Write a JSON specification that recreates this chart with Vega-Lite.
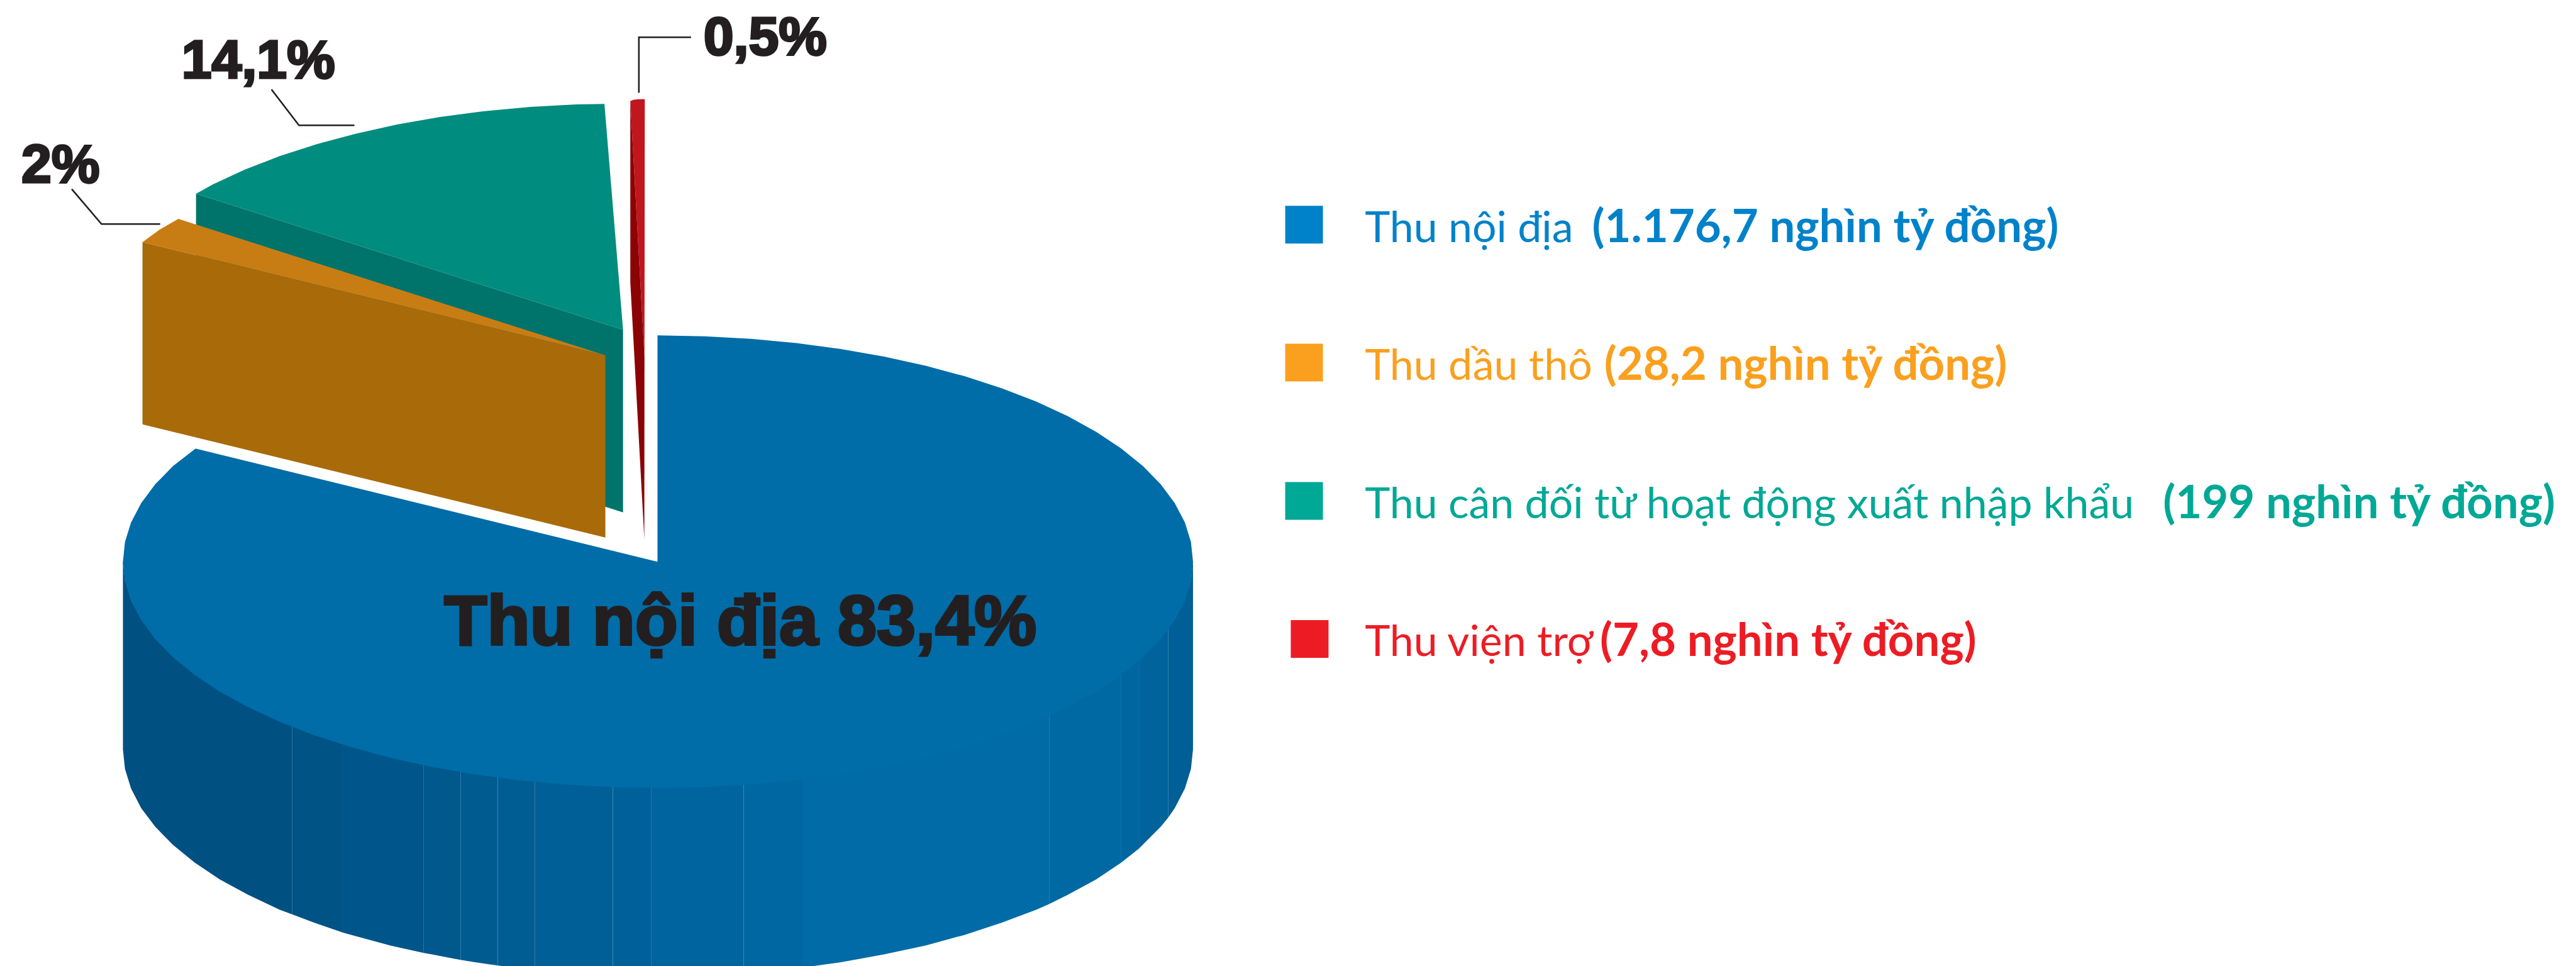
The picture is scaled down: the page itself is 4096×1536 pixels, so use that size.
{"$schema":"https://vega.github.io/schema/vega-lite/v6.json","width":4096,"height":1536,"autosize":{"type":"fit","contains":"padding"},"padding":0,"background":"white","config":{"view":{"stroke":null},"legend":{"disable":true}},
"datasets":{
"bands":[
{"band":"A","x":264,"top":1203,"bottom":1609},{"band":"A","x":268.4,"top":1245,"bottom":1651},{"band":"A","x":281.4,"top":1287,"bottom":1693},{"band":"A","x":303.2,"top":1329,"bottom":1735},{"band":"A","x":333.3,"top":1369,"bottom":1775},{"band":"A","x":371.6,"top":1408,"bottom":1814},{"band":"A","x":418,"top":1446,"bottom":1852},{"band":"A","x":471.8,"top":1482,"bottom":1888},{"band":"A","x":532.8,"top":1515,"bottom":1921},{"band":"A","x":600.5,"top":1547,"bottom":1953},{"band":"A","x":627,"top":1557,"bottom":1963},
{"band":"B","x":627,"top":1557,"bottom":1963},{"band":"B","x":674.4,"top":1575,"bottom":1981},{"band":"B","x":736,"top":1596,"bottom":2002},
{"band":"C","x":736,"top":1596,"bottom":2002},{"band":"C","x":754,"top":1601,"bottom":2007},{"band":"C","x":838.5,"top":1624,"bottom":2030},{"band":"C","x":910,"top":1640,"bottom":2046},
{"band":"D","x":910,"top":1640,"bottom":2046},{"band":"D","x":927.4,"top":1643,"bottom":2049},{"band":"D","x":989,"top":1655,"bottom":2061},
{"band":"E","x":989,"top":1655,"bottom":2061},{"band":"E","x":1020,"top":1660,"bottom":2066},{"band":"E","x":1069,"top":1667,"bottom":2073},
{"band":"F","x":1069,"top":1667,"bottom":2073},{"band":"F","x":1115.6,"top":1672,"bottom":2078},{"band":"F","x":1149,"top":1676,"bottom":2082},
{"band":"G","x":1149,"top":1676,"bottom":2082},{"band":"G","x":1213.5,"top":1682,"bottom":2088},{"band":"G","x":1316,"top":1687,"bottom":2093},
{"band":"H","x":1316,"top":1687,"bottom":2093},{"band":"H","x":1399,"top":1689,"bottom":2095},
{"band":"I","x":1399,"top":1689,"bottom":2095},{"band":"I","x":1513,"top":1687,"bottom":2093},{"band":"I","x":1597,"top":1683,"bottom":2089},
{"band":"J","x":1597,"top":1683,"bottom":2089},{"band":"J","x":1710.4,"top":1672,"bottom":2078},{"band":"J","x":1726,"top":1671,"bottom":2077},
{"band":"K","x":1726,"top":1671,"bottom":2077},{"band":"K","x":1806,"top":1660,"bottom":2066},{"band":"K","x":1898.6,"top":1643,"bottom":2049},{"band":"K","x":1987.5,"top":1624,"bottom":2030},{"band":"K","x":2072,"top":1601,"bottom":2007},{"band":"K","x":2151.6,"top":1575,"bottom":1981},{"band":"K","x":2225.5,"top":1547,"bottom":1953},{"band":"K","x":2253,"top":1535,"bottom":1941},
{"band":"L","x":2253,"top":1535,"bottom":1941},{"band":"L","x":2293.2,"top":1515,"bottom":1921},{"band":"L","x":2354.2,"top":1482,"bottom":1888},{"band":"L","x":2408,"top":1446,"bottom":1852},
{"band":"M","x":2408,"top":1446,"bottom":1852},{"band":"M","x":2446,"top":1416,"bottom":1822},
{"band":"N","x":2446,"top":1416,"bottom":1822},{"band":"N","x":2492.7,"top":1369,"bottom":1775},{"band":"N","x":2509,"top":1349,"bottom":1755},
{"band":"O","x":2509,"top":1349,"bottom":1755},{"band":"O","x":2522.8,"top":1329,"bottom":1735},{"band":"O","x":2544.6,"top":1287,"bottom":1693},{"band":"O","x":2557.6,"top":1245,"bottom":1651},{"band":"O","x":2562,"top":1203,"bottom":1609}
],
"shapes":[
{"piece":"blueTop","o":0,"x":1412,"y":1206},{"piece":"blueTop","o":1,"x":1412,"y":720},{"piece":"blueTop","o":2,"x":1513.2,"y":721.9},{"piece":"blueTop","o":3,"x":1612.5,"y":727.4},{"piece":"blueTop","o":4,"x":1710.4,"y":736.6},{"piece":"blueTop","o":5,"x":1806,"y":749.3},{"piece":"blueTop","o":6,"x":1898.6,"y":765.5},{"piece":"blueTop","o":7,"x":1987.5,"y":785.1},{"piece":"blueTop","o":8,"x":2072,"y":807.9},{"piece":"blueTop","o":9,"x":2151.6,"y":833.7},{"piece":"blueTop","o":10,"x":2225.5,"y":862.3},{"piece":"blueTop","o":11,"x":2293.2,"y":893.6},{"piece":"blueTop","o":12,"x":2354.2,"y":927.2},{"piece":"blueTop","o":13,"x":2408,"y":963},{"piece":"blueTop","o":14,"x":2454.4,"y":1000.6},{"piece":"blueTop","o":15,"x":2492.7,"y":1039.8},{"piece":"blueTop","o":16,"x":2522.8,"y":1080.2},{"piece":"blueTop","o":17,"x":2544.6,"y":1121.6},{"piece":"blueTop","o":18,"x":2557.6,"y":1163.6},{"piece":"blueTop","o":19,"x":2562,"y":1206},{"piece":"blueTop","o":20,"x":2557.6,"y":1248.4},{"piece":"blueTop","o":21,"x":2544.6,"y":1290.4},{"piece":"blueTop","o":22,"x":2522.8,"y":1331.8},{"piece":"blueTop","o":23,"x":2492.7,"y":1372.2},{"piece":"blueTop","o":24,"x":2454.4,"y":1411.4},{"piece":"blueTop","o":25,"x":2408,"y":1449},{"piece":"blueTop","o":26,"x":2354.2,"y":1484.8},{"piece":"blueTop","o":27,"x":2293.2,"y":1518.4},{"piece":"blueTop","o":28,"x":2225.5,"y":1549.7},{"piece":"blueTop","o":29,"x":2151.6,"y":1578.3},{"piece":"blueTop","o":30,"x":2072,"y":1604.1},{"piece":"blueTop","o":31,"x":1987.5,"y":1626.9},{"piece":"blueTop","o":32,"x":1898.6,"y":1646.5},{"piece":"blueTop","o":33,"x":1806,"y":1662.7},{"piece":"blueTop","o":34,"x":1710.4,"y":1675.4},{"piece":"blueTop","o":35,"x":1612.5,"y":1684.6},{"piece":"blueTop","o":36,"x":1513.2,"y":1690.1},{"piece":"blueTop","o":37,"x":1413,"y":1692},{"piece":"blueTop","o":38,"x":1312.8,"y":1690.1},{"piece":"blueTop","o":39,"x":1213.5,"y":1684.6},{"piece":"blueTop","o":40,"x":1115.6,"y":1675.4},{"piece":"blueTop","o":41,"x":1020,"y":1662.7},{"piece":"blueTop","o":42,"x":927.4,"y":1646.5},{"piece":"blueTop","o":43,"x":838.5,"y":1626.9},{"piece":"blueTop","o":44,"x":754,"y":1604.1},{"piece":"blueTop","o":45,"x":674.4,"y":1578.3},{"piece":"blueTop","o":46,"x":600.5,"y":1549.7},{"piece":"blueTop","o":47,"x":532.8,"y":1518.4},{"piece":"blueTop","o":48,"x":471.8,"y":1484.8},{"piece":"blueTop","o":49,"x":418,"y":1449},{"piece":"blueTop","o":50,"x":371.6,"y":1411.4},{"piece":"blueTop","o":51,"x":333.3,"y":1372.2},{"piece":"blueTop","o":52,"x":303.2,"y":1331.8},{"piece":"blueTop","o":53,"x":281.4,"y":1290.4},{"piece":"blueTop","o":54,"x":268.4,"y":1248.4},{"piece":"blueTop","o":55,"x":264,"y":1206},{"piece":"blueTop","o":56,"x":268.4,"y":1163.6},{"piece":"blueTop","o":57,"x":281.4,"y":1121.6},{"piece":"blueTop","o":58,"x":303.2,"y":1080.2},{"piece":"blueTop","o":59,"x":333.3,"y":1039.8},{"piece":"blueTop","o":60,"x":371.6,"y":1000.6},{"piece":"blueTop","o":61,"x":420,"y":963},
{"piece":"tealSide","o":0,"x":421,"y":416},{"piece":"tealSide","o":1,"x":1338,"y":708},{"piece":"tealSide","o":2,"x":1338,"y":1100},{"piece":"tealSide","o":3,"x":421,"y":808},
{"piece":"tealTop","o":0,"x":1338,"y":708},{"piece":"tealTop","o":1,"x":1298,"y":223},{"piece":"tealTop","o":2,"x":1238,"y":224},{"piece":"tealTop","o":3,"x":1138.5,"y":229.4},{"piece":"tealTop","o":4,"x":1040.6,"y":238.6},{"piece":"tealTop","o":5,"x":945,"y":251.3},{"piece":"tealTop","o":6,"x":852.4,"y":267.5},{"piece":"tealTop","o":7,"x":763.5,"y":287.1},{"piece":"tealTop","o":8,"x":679,"y":309.9},{"piece":"tealTop","o":9,"x":599.4,"y":335.7},{"piece":"tealTop","o":10,"x":525.5,"y":364.3},{"piece":"tealTop","o":11,"x":457.8,"y":395.6},{"piece":"tealTop","o":12,"x":421,"y":416},
{"piece":"orangeTop","o":0,"x":1300,"y":763},{"piece":"orangeTop","o":1,"x":383,"y":470},{"piece":"orangeTop","o":2,"x":343,"y":493},{"piece":"orangeTop","o":3,"x":306,"y":520},
{"piece":"orangeSide","o":0,"x":306,"y":520},{"piece":"orangeSide","o":1,"x":1300,"y":763},{"piece":"orangeSide","o":2,"x":1300,"y":1154},{"piece":"orangeSide","o":3,"x":306,"y":911},
{"piece":"redTop","o":0,"x":1353.6,"y":217},{"piece":"redTop","o":1,"x":1360,"y":214.5},{"piece":"redTop","o":2,"x":1370,"y":213},{"piece":"redTop","o":3,"x":1384.7,"y":213},{"piece":"redTop","o":4,"x":1384,"y":765},
{"piece":"redSide","o":0,"x":1353.6,"y":217},{"piece":"redSide","o":1,"x":1384,"y":765},{"piece":"redSide","o":2,"x":1383.7,"y":1158},{"piece":"redSide","o":3,"x":1353.6,"y":606}
],
"leaders":[
{"leader":"a","o":0,"x":154,"y":406},{"leader":"a","o":1,"x":218,"y":481},{"leader":"a","o":2,"x":344,"y":481},
{"leader":"b","o":0,"x":583,"y":192},{"leader":"b","o":1,"x":642,"y":269},{"leader":"b","o":2,"x":761,"y":269},
{"leader":"c","o":0,"x":1372,"y":199},{"leader":"c","o":1,"x":1372,"y":80},{"leader":"c","o":2,"x":1484,"y":80}
],
"labels":[
{"label":"2%","x":46,"y":392},{"label":"14,1%","x":390,"y":167},{"label":"0,5%","x":1511,"y":118}
],
"legend":[
{"name":"Thu nội địa","amount":"(1.176,7 nghìn tỷ đồng)","mx":2800.5,"my":482.5,"nx":2931,"ax":3419,"b":520},
{"name":"Thu dầu thô","amount":"(28,2 nghìn tỷ đồng)","mx":2800.5,"my":778.5,"nx":2931,"ax":3445,"b":815},
{"name":"Thu cân đối từ hoạt động xuất nhập khẩu","amount":"(199 nghìn tỷ đồng)","mx":2800.5,"my":1075.5,"nx":2931,"ax":4645,"b":1113},
{"name":"Thu viện trợ","amount":"(7,8 nghìn tỷ đồng)","mx":2812.5,"my":1372,"nx":2931,"ax":3436,"b":1408}
]
},
"layer":[
{"data":{"name":"bands"},"mark":{"type":"area","clip":true},"encoding":{
"x":{"field":"x","type":"quantitative","axis":null,"scale":{"domain":[0,5532],"nice":false,"zero":false}},
"y":{"field":"top","type":"quantitative","axis":null,"scale":{"domain":[2074,0],"nice":false,"zero":false}},
"y2":{"field":"bottom"},
"fill":{"field":"band","type":"nominal","scale":{"domain":["A","B","C","D","E","F","G","H","I","J","K","L","M","N","O","blueTop","tealSide","tealTop","orangeTop","orangeSide","redTop","redSide","Thu nội địa","Thu dầu thô","Thu cân đối từ hoạt động xuất nhập khẩu","Thu viện trợ"],"range":["#005082","#005385","#00568A","#00588D","#005B91","#005D94","#005F97","#00619A","#00649E","#0067A2","#006BA7","#0069A4","#0066A0","#00639B","#005F96","#006CA8","#00746A","#008C7E","#C87D14","#A96A0A","#C1161D","#8B0304","#0082CA","#FAA01E","#00A896","#ED1C24"]}}}},
{"data":{"name":"shapes"},"mark":{"type":"line","strokeWidth":0},"encoding":{
"x":{"field":"x","type":"quantitative"},"y":{"field":"y","type":"quantitative"},"order":{"field":"o"},
"fill":{"field":"piece","type":"nominal"}}},
{"data":{"name":"leaders"},"mark":{"type":"line","stroke":"#231F20","strokeWidth":2.6},"encoding":{
"x":{"field":"x","type":"quantitative"},"y":{"field":"y","type":"quantitative"},"order":{"field":"o"},"detail":{"field":"leader"}}},
{"data":{"name":"labels"},"mark":{"type":"text","font":"Liberation Sans","fontWeight":"bold","fontSize":86,"align":"left","baseline":"alphabetic","fill":"#231F20","stroke":"#231F20","strokeWidth":3.5},"encoding":{
"x":{"field":"x","type":"quantitative"},"y":{"field":"y","type":"quantitative"},"text":{"field":"label"}}},
{"data":{"values":[{"label":"Thu nội địa 83,4%","x":954,"y":1384}]},"mark":{"type":"text","font":"Liberation Sans","fontWeight":"bold","fontSize":111.5,"align":"left","baseline":"alphabetic","fill":"#231F20","stroke":"#231F20","strokeWidth":4},"encoding":{
"x":{"field":"x","type":"quantitative"},"y":{"field":"y","type":"quantitative"},"text":{"field":"label"}}},
{"data":{"name":"legend"},"mark":{"type":"point","shape":"square","filled":true,"size":3600,"opacity":1},"encoding":{
"x":{"field":"mx","type":"quantitative"},"y":{"field":"my","type":"quantitative"},"fill":{"field":"name","type":"nominal"}}},
{"data":{"name":"legend"},"mark":{"type":"text","font":"Lato","fontSize":68,"align":"left","baseline":"alphabetic"},"encoding":{
"x":{"field":"nx","type":"quantitative"},"y":{"field":"b","type":"quantitative"},"text":{"field":"name"},"fill":{"field":"name","type":"nominal"}}},
{"data":{"name":"legend"},"mark":{"type":"text","font":"Lato","fontWeight":"bold","fontSize":72.5,"align":"left","baseline":"alphabetic"},"encoding":{
"x":{"field":"ax","type":"quantitative"},"y":{"field":"b","type":"quantitative"},"text":{"field":"amount"},"fill":{"field":"name","type":"nominal"}}}
]}
